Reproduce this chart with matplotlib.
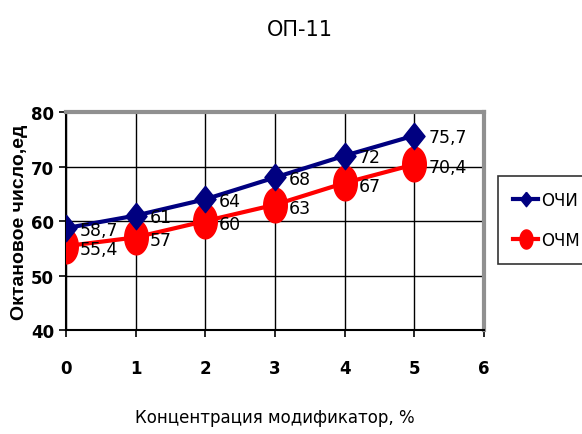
import matplotlib
matplotlib.use("Agg")
import numpy as np
import matplotlib.pyplot as plt

# data
conc = [0, 1, 2, 3, 4, 5]
ochi = [58.7, 61, 64, 68, 72, 75.7]
ochm = [55.4, 57, 60, 63, 67, 70.4]
ochi_labels = ["58,7", "61", "64", "68", "72", "75,7"]
ochm_labels = ["55,4", "57", "60", "63", "67", "70,4"]

FONT = ["Liberation Sans Narrow", "DejaVu Sans"]
BLUE = "#000080"
RED = "#ff0000"

# tall markers, like in the source (it looks squeezed sideways)
t = np.linspace(0, 2 * np.pi, 60)
ellipse = np.column_stack([0.68 * np.cos(t), np.sin(t)])
diamond = [(0, 1), (0.8, 0), (0, -1), (-0.8, 0), (0, 1)]

fig = plt.figure(figsize=(5.82, 4.35), dpi=100)
ax = fig.add_axes([0.113, 0.239, 0.719, 0.501])

ax.plot(conc, ochi, color=BLUE, lw=3, marker=diamond, ms=19, label="ОЧИ", zorder=4)
ax.plot(conc, ochm, color=RED, lw=3, marker=ellipse, ms=25, label="ОЧМ", zorder=3)

for x, y, s in zip(conc, ochi, ochi_labels):
    ax.annotate(s, (x, y), xytext=(10, -1), textcoords="offset points",
                fontsize=12.5, family=FONT, va="center", ha="left", zorder=6)
for x, y, s in zip(conc, ochm, ochm_labels):
    ax.annotate(s, (x, y), xytext=(10, -2), textcoords="offset points",
                fontsize=12.5, family=FONT, va="center", ha="left", zorder=6)

ax.set_xlim(0, 6)
ax.set_ylim(40, 80)
ax.set_xticks(range(0, 7))
ax.set_yticks(range(40, 81, 10))
ax.grid(True, color="black", lw=1)
ax.set_axisbelow(True)

for s in ["left", "bottom"]:
    ax.spines[s].set_color("black")
    ax.spines[s].set_linewidth(1.5)
for s in ["top", "right"]:
    ax.spines[s].set_color("#909090")
    ax.spines[s].set_linewidth(3)

ax.tick_params(axis="both", direction="out", length=5, width=1.2, labelsize=12)
ax.tick_params(axis="x", pad=16)
for lab in ax.get_xticklabels() + ax.get_yticklabels():
    lab.set_family(FONT)
    lab.set_fontweight("bold")

ax.set_xlabel("Концентрация модификатор, %", fontsize=12, family=FONT, labelpad=22)
ax.set_ylabel("Октановое число,ед", fontsize=14, fontweight="bold",
              family="Liberation Sans", labelpad=2)
fig.text(0.515, 0.93, "ОП-11", fontsize=15, family=FONT, ha="center", va="center")

leg = fig.legend(loc="upper left", bbox_to_anchor=(0.856, 0.593), frameon=True,
                 fancybox=False, edgecolor="black", prop={"family": FONT, "size": 12},
                 handlelength=1.5, handletextpad=0.2, borderpad=0.9,
                 labelspacing=1.3, markerscale=0.55, borderaxespad=0)
leg.get_frame().set_linewidth(1.2)

fig.savefig("out.png", dpi=100)
